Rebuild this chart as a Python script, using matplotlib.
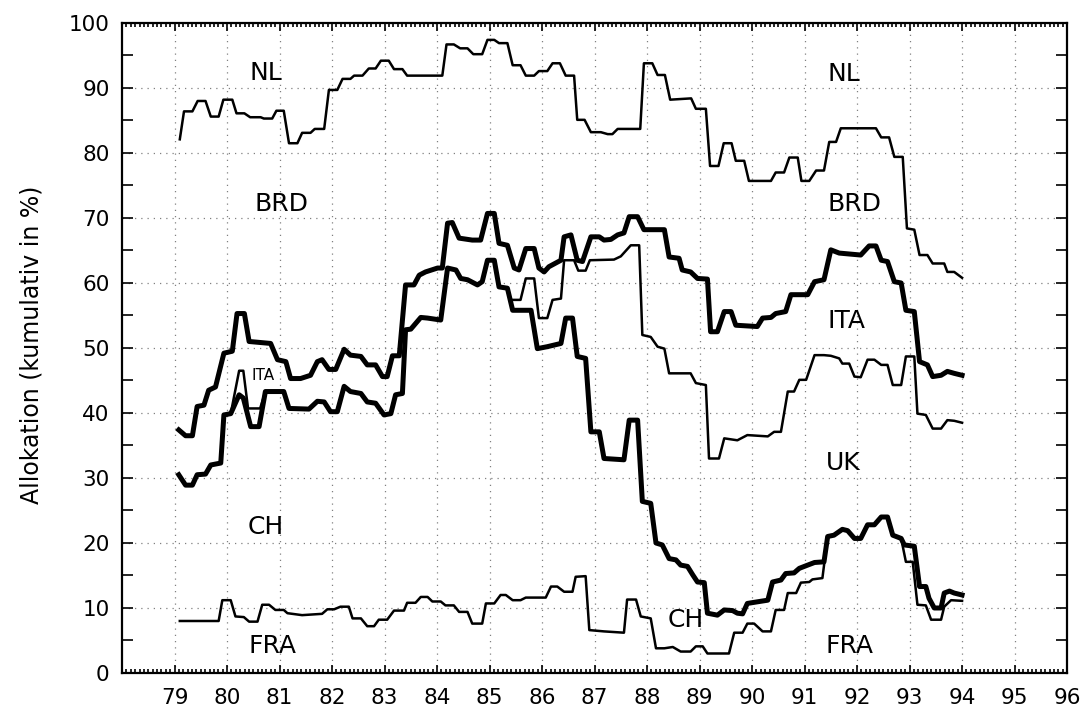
import matplotlib
matplotlib.use("Agg")
import matplotlib.pyplot as plt
from matplotlib.ticker import MultipleLocator

# Kumulative Allokation, Grenzlinien zwischen den Laendern (Jahr, %)
nl_t = [79.10, 79.18, 79.34, 79.44, 79.59, 79.69, 79.84, 79.93, 80.10, 80.18, 80.33, 80.44, 80.64, 80.70,
        80.86, 80.94, 81.08, 81.18, 81.34, 81.43, 81.59, 81.67, 81.85, 81.94, 82.10, 82.20, 82.35, 82.42,
        82.58, 82.70, 82.83, 82.93, 83.08, 83.18, 83.34, 83.43, 84.10, 84.18, 84.32, 84.44, 84.58, 84.69,
        84.86, 84.96, 85.09, 85.18, 85.34, 85.44, 85.59, 85.69, 85.85, 85.94, 86.10, 86.20, 86.34, 86.45,
        86.61, 86.67, 86.81, 86.93, 87.12, 87.25, 87.34, 87.44, 87.87, 87.94, 88.10, 88.20, 88.34, 88.44,
        88.84, 88.93, 89.12, 89.20, 89.36, 89.46, 89.61, 89.69, 89.85, 89.94, 90.36, 90.45, 90.61, 90.71,
        90.87, 90.94, 91.09, 91.22, 91.37, 91.47, 91.60, 91.69, 92.36, 92.46, 92.61, 92.71, 92.87, 92.95,
        93.09, 93.19, 93.34, 93.44, 93.66, 93.72, 93.85, 94.00]
nl_v = [82.1, 86.4, 86.4, 88.0, 88.0, 85.6, 85.6, 88.2, 88.2, 86.1, 86.1, 85.5, 85.5, 85.3,
        85.3, 86.5, 86.5, 81.5, 81.5, 83.1, 83.1, 83.7, 83.7, 89.7, 89.7, 91.4, 91.4, 91.9,
        91.9, 93.0, 93.0, 94.2, 94.2, 92.9, 92.9, 91.9, 91.9, 96.7, 96.7, 96.1, 96.1, 95.2,
        95.2, 97.4, 97.4, 96.9, 96.9, 93.5, 93.5, 91.9, 91.9, 92.6, 92.6, 93.8, 93.8, 91.9,
        91.9, 85.1, 85.1, 83.2, 83.2, 82.9, 82.9, 83.7, 83.7, 93.8, 93.8, 92.0, 92.0, 88.2,
        88.4, 86.8, 86.8, 78.0, 78.0, 81.5, 81.5, 78.8, 78.8, 75.7, 75.7, 77.0, 77.0, 79.3,
        79.3, 75.7, 75.7, 77.3, 77.3, 81.7, 81.7, 83.8, 83.8, 82.4, 82.4, 79.4, 79.4, 68.4,
        68.2, 64.3, 64.3, 63.0, 63.0, 61.7, 61.7, 60.8]

brd_t = [79.08, 79.21, 79.34, 79.43, 79.56, 79.65, 79.78, 79.94, 80.10, 80.19, 80.33, 80.42, 80.83, 80.96,
         81.12, 81.21, 81.40, 81.59, 81.72, 81.81, 81.94, 82.07, 82.23, 82.35, 82.55, 82.67, 82.83, 82.96,
         83.05, 83.15, 83.28, 83.40, 83.56, 83.66, 83.78, 84.01, 84.10, 84.20, 84.29, 84.42, 84.67, 84.83,
         84.96, 85.09, 85.18, 85.34, 85.47, 85.56, 85.69, 85.85, 85.94, 86.04, 86.13, 86.36, 86.42, 86.55,
         86.67, 86.77, 86.93, 87.09, 87.18, 87.31, 87.44, 87.56, 87.66, 87.82, 87.94, 88.33, 88.42, 88.61,
         88.67, 88.83, 88.96, 89.15, 89.21, 89.34, 89.47, 89.60, 89.69, 90.10, 90.20, 90.36, 90.45, 90.64,
         90.74, 91.06, 91.19, 91.37, 91.50, 91.66, 92.07, 92.23, 92.36, 92.46, 92.58, 92.71, 92.84, 92.93,
         93.09, 93.19, 93.34, 93.44, 93.60, 93.72, 93.85, 94.00]
brd_v = [37.4, 36.5, 36.5, 41.0, 41.2, 43.5, 44.0, 49.2, 49.5, 55.3, 55.3, 51.0, 50.7, 48.2,
         47.9, 45.3, 45.3, 45.8, 47.9, 48.2, 46.7, 46.7, 49.8, 48.9, 48.7, 47.4, 47.4, 45.6,
         45.6, 48.8, 48.8, 59.7, 59.7, 61.2, 61.7, 62.3, 62.3, 69.2, 69.3, 66.9, 66.6, 66.6,
         70.7, 70.7, 66.1, 65.8, 62.3, 62.0, 65.3, 65.3, 62.3, 61.7, 62.5, 63.5, 67.1, 67.4,
         63.5, 63.3, 67.1, 67.1, 66.6, 66.7, 67.4, 67.7, 70.2, 70.2, 68.2, 68.2, 64.0, 63.8,
         62.0, 61.7, 60.7, 60.6, 52.5, 52.5, 55.6, 55.6, 53.5, 53.3, 54.6, 54.7, 55.3, 55.6,
         58.2, 58.2, 60.2, 60.5, 65.1, 64.6, 64.3, 65.7, 65.7, 63.5, 63.3, 60.2, 60.0, 55.8,
         55.6, 47.9, 47.4, 45.6, 45.8, 46.4, 46.1, 45.8]

ita_t = [79.08, 79.21, 79.34, 79.43, 79.59, 79.69, 79.88, 79.94, 80.07, 80.23, 80.31, 80.40, 80.63, 80.73,
         81.08, 81.18, 81.56, 81.72, 81.85, 81.97, 82.10, 82.23, 82.35, 82.55, 82.67, 82.83, 82.99, 83.12,
         83.21, 83.34, 83.40, 83.50, 83.69, 83.82, 84.07, 84.20, 84.36, 84.45, 84.58, 84.77, 84.86, 84.96,
         85.09, 85.18, 85.34, 85.40, 85.59, 85.69, 85.85, 85.94, 86.10, 86.20, 86.36, 86.42, 86.61, 86.69,
         86.83, 86.91, 87.37, 87.50, 87.69, 87.85, 87.91, 88.07, 88.20, 88.33, 88.42, 88.83, 88.93, 89.12,
         89.18, 89.37, 89.47, 89.72, 89.91, 90.30, 90.42, 90.55, 90.68, 90.80, 90.90, 91.03, 91.19, 91.37,
         91.50, 91.66, 91.72, 91.85, 91.95, 92.07, 92.20, 92.33, 92.46, 92.58, 92.68, 92.84, 92.93, 93.09,
         93.15, 93.31, 93.44, 93.60, 93.72, 93.85, 94.00]
ita_v = [30.5, 28.9, 28.9, 30.5, 30.6, 32.0, 32.3, 39.7, 39.9, 46.5, 46.5, 40.7, 40.7, 43.3,
         43.3, 40.7, 40.6, 41.8, 41.7, 40.2, 40.2, 44.1, 43.3, 43.0, 41.7, 41.5, 39.7, 39.9,
         42.8, 43.0, 52.8, 52.9, 54.7, 54.6, 54.3, 62.3, 62.0, 60.7, 60.5, 59.7, 60.2, 63.5,
         63.5, 59.4, 59.2, 57.4, 57.4, 60.7, 60.7, 54.6, 54.6, 57.4, 57.6, 63.5, 63.5, 61.9,
         61.9, 63.5, 63.6, 64.1, 65.8, 65.8, 52.0, 51.7, 50.2, 49.9, 46.1, 46.1, 44.6, 44.3,
         33.0, 33.0, 36.1, 35.8, 36.6, 36.4, 37.1, 37.1, 43.3, 43.3, 45.1, 45.1, 48.9, 48.9,
         48.8, 48.4, 47.6, 47.6, 45.6, 45.5, 48.2, 48.2, 47.4, 47.4, 44.3, 44.3, 48.7, 48.7,
         39.9, 39.7, 37.6, 37.6, 38.9, 38.8, 38.5]

uk_t = [79.08, 79.21, 79.34, 79.43, 79.59, 79.69, 79.88, 79.94, 80.07, 80.23, 80.31, 80.45, 80.61, 80.73,
        81.08, 81.18, 81.56, 81.72, 81.85, 81.97, 82.10, 82.23, 82.35, 82.55, 82.67, 82.83, 82.99, 83.12,
        83.21, 83.34, 83.40, 83.50, 83.69, 83.82, 84.07, 84.20, 84.36, 84.45, 84.58, 84.77, 84.86, 84.96,
        85.09, 85.18, 85.34, 85.44, 85.79, 85.91, 86.10, 86.36, 86.45, 86.58, 86.67, 86.83, 86.93, 87.09,
        87.18, 87.56, 87.66, 87.82, 87.91, 88.07, 88.17, 88.29, 88.42, 88.55, 88.64, 88.77, 88.87, 88.96,
        89.09, 89.15, 89.34, 89.47, 89.63, 89.72, 89.82, 89.91, 90.14, 90.30, 90.39, 90.55, 90.64, 90.80,
        90.90, 91.06, 91.19, 91.37, 91.44, 91.56, 91.72, 91.82, 91.95, 92.07, 92.20, 92.33, 92.46, 92.58,
        92.68, 92.84, 92.90, 93.09, 93.19, 93.31, 93.37, 93.47, 93.60, 93.66, 93.76, 93.85, 94.00]
uk_v = [30.5, 28.9, 28.9, 30.5, 30.6, 32.0, 32.3, 39.7, 39.9, 42.8, 42.3, 37.9, 37.9, 43.3,
        43.3, 40.7, 40.6, 41.8, 41.7, 40.2, 40.2, 44.1, 43.3, 43.0, 41.7, 41.5, 39.7, 39.9,
        42.8, 43.0, 52.8, 52.9, 54.7, 54.6, 54.3, 62.3, 62.0, 60.7, 60.5, 59.7, 60.2, 63.5,
        63.5, 59.4, 59.2, 55.8, 55.8, 49.9, 50.2, 50.7, 54.6, 54.6, 48.7, 48.4, 37.1, 37.1,
        33.0, 32.8, 38.9, 38.9, 26.4, 26.1, 20.0, 19.7, 17.6, 17.4, 16.6, 16.4, 15.1, 14.0,
        13.9, 9.2, 8.9, 9.7, 9.6, 9.2, 9.1, 10.7, 11.0, 11.2, 14.0, 14.3, 15.3, 15.4,
        16.1, 16.6, 17.0, 17.1, 21.0, 21.2, 22.1, 21.9, 20.7, 20.7, 22.8, 22.8, 24.0, 24.0,
        21.2, 20.7, 19.7, 19.5, 13.3, 13.3, 11.5, 10.0, 10.0, 12.3, 12.6, 12.3, 12.0]

ch_t = [79.10, 79.84, 79.91, 80.07, 80.16, 80.32, 80.42, 80.58, 80.67, 80.80, 80.92, 81.08, 81.15, 81.43,
        81.81, 81.91, 82.04, 82.16, 82.32, 82.39, 82.55, 82.67, 82.80, 82.89, 83.05, 83.18, 83.37, 83.43,
        83.59, 83.69, 83.82, 83.91, 84.07, 84.16, 84.32, 84.42, 84.58, 84.67, 84.86, 84.93, 85.09, 85.21,
        85.31, 85.44, 85.59, 85.69, 86.07, 86.17, 86.29, 86.42, 86.58, 86.64, 86.83, 86.90, 87.18, 87.56,
        87.62, 87.79, 87.88, 88.07, 88.17, 88.33, 88.49, 88.64, 88.83, 88.93, 89.06, 89.15, 89.56, 89.66,
        89.82, 89.91, 90.04, 90.20, 90.36, 90.45, 90.61, 90.68, 90.84, 90.93, 91.09, 91.15, 91.34, 91.44,
        91.56, 91.72, 91.82, 91.95, 92.07, 92.20, 92.33, 92.46, 92.58, 92.68, 92.84, 92.93, 93.06, 93.15,
        93.31, 93.41, 93.60, 93.66, 93.79, 94.00]
ch_v = [8.0, 8.0, 11.2, 11.2, 8.7, 8.6, 7.9, 7.9, 10.5, 10.5, 9.7, 9.7, 9.2, 8.9,
        9.1, 9.8, 9.8, 10.2, 10.2, 8.4, 8.4, 7.2, 7.2, 8.2, 8.2, 9.6, 9.6, 10.8,
        10.8, 11.7, 11.7, 11.0, 11.0, 10.4, 10.4, 9.4, 9.4, 7.6, 7.6, 10.7, 10.7, 12.0,
        12.0, 11.2, 11.2, 11.6, 11.6, 13.3, 13.3, 12.5, 12.5, 14.8, 14.9, 6.6, 6.4, 6.2,
        11.3, 11.3, 8.7, 8.4, 3.8, 3.8, 4.0, 3.3, 3.3, 4.1, 4.1, 3.0, 3.0, 6.2,
        6.2, 7.6, 7.6, 6.4, 6.4, 9.7, 9.7, 12.3, 12.3, 13.9, 14.0, 14.4, 14.6, 21.0,
        21.2, 22.1, 21.9, 20.7, 20.7, 22.8, 22.8, 24.0, 24.0, 21.2, 20.7, 17.1, 17.1, 10.5,
        10.4, 8.2, 8.2, 10.2, 11.2, 11.1]

year_ticks = list(range(79, 97))

# Beschriftungen der Flaechen
labels = ["NL", "NL", "BRD", "BRD", "ITA", "UK", "CH", "CH", "FRA", "FRA"]
label_x = [80.73, 91.75, 81.03, 91.95, 91.79, 91.74, 80.73, 88.74, 80.87, 91.86]
label_y = [92.3, 92.2, 72.2, 72.2, 54.1, 32.3, 22.5, 8.2, 4.2, 4.1]

fig = plt.figure(figsize=(10.82, 7.07), dpi=100)
ax = fig.add_axes([0.1128, 0.0481, 0.8734, 0.9194])

ax.plot(nl_t, nl_v, color='black', lw=1.8)
ax.plot(ita_t, ita_v, color='black', lw=1.8)
ax.plot(ch_t, ch_v, color='black', lw=1.8)
ax.plot(brd_t, brd_v, color='black', lw=3.6)
ax.plot(uk_t, uk_v, color='black', lw=3.6)

for s, x, y in zip(labels, label_x, label_y):
    ax.text(x, y, s, fontsize=18, ha='center', va='center')
ax.text(80.69, 45.7, "ITA", fontsize=11, ha='center', va='center')

ax.set_xlim(78, 96)
ax.set_ylim(0, 100)
ax.set_xticks(year_ticks)
ax.set_yticks(range(0, 101, 10))
ax.xaxis.set_minor_locator(MultipleLocator(1 / 12))
ax.yaxis.set_minor_locator(MultipleLocator(5))

ax.tick_params(which='both', direction='in', top=True, right=True, width=1.2, labelsize=15.5)
ax.tick_params(axis='x', which='major', length=6, pad=11)
ax.tick_params(axis='x', which='minor', length=3)
ax.tick_params(axis='y', which='both', length=8, pad=9)

for sp in ax.spines.values():
    sp.set_linewidth(1.6)

ax.set_axisbelow(True)
ax.grid(True, which='major', linestyle=(0, (1, 4)), color='0.5', lw=0.9)

ax.set_ylabel('Allokation (kumulativ in %)', fontsize=17)
ax.yaxis.set_label_coords(-0.0836, 0.505)

plt.savefig('out.png', dpi=100)
